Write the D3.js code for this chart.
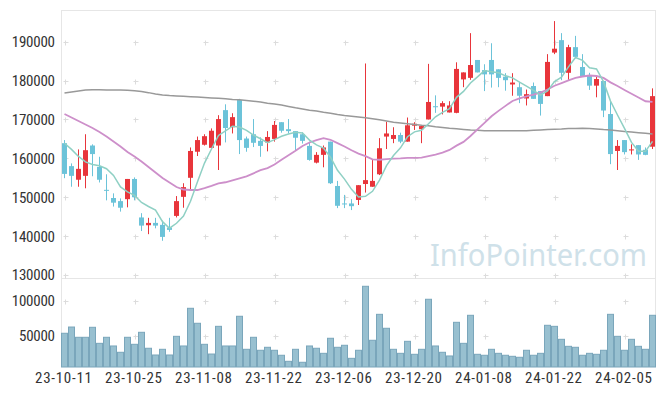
<!DOCTYPE html>
<html><head><meta charset="utf-8">
<script src="https://cdn.jsdelivr.net/npm/d3@7/dist/d3.min.js"></script>
<style>body{margin:0;background:#fff}svg{display:block}</style>
</head><body><svg id="c" width="665" height="396"></svg>
<script>
const dates = ["23-10-11","23-10-12","23-10-13","23-10-16","23-10-17","23-10-18","23-10-19","23-10-20","23-10-23","23-10-24",
"23-10-25","23-10-26","23-10-27","23-10-30","23-10-31","23-11-01","23-11-02","23-11-03","23-11-06","23-11-07",
"23-11-08","23-11-09","23-11-10","23-11-13","23-11-14","23-11-15","23-11-16","23-11-17","23-11-20","23-11-21",
"23-11-22","23-11-23","23-11-24","23-11-27","23-11-28","23-11-29","23-11-30","23-12-01","23-12-04","23-12-05",
"23-12-06","23-12-07","23-12-08","23-12-11","23-12-12","23-12-13","23-12-14","23-12-15","23-12-18","23-12-19",
"23-12-20","23-12-21","23-12-22","23-12-26","23-12-27","23-12-28","24-01-02","24-01-03","24-01-04","24-01-05",
"24-01-08","24-01-09","24-01-10","24-01-11","24-01-12","24-01-15","24-01-16","24-01-17","24-01-18","24-01-19",
"24-01-22","24-01-23","24-01-24","24-01-25","24-01-26","24-01-29","24-01-30","24-01-31","24-02-01","24-02-02",
"24-02-05","24-02-06","24-02-07","24-02-08","24-02-13"];
const xTickLabels = ["23-10-11","23-10-25","23-11-08","23-11-22","23-12-06","23-12-20","24-01-08","24-01-22","24-02-05"];
const priceTicks = [130000,140000,150000,160000,170000,180000,190000];
const volumeTicks = [50000,100000];

const open = [163900,158000,154500,155500,163300,157800,151900,149800,149000,149500,
154700,144800,142800,143400,142900,142200,145200,150100,155000,161700,
163500,162700,163300,172400,168000,175000,165100,166200,164500,164100,
165000,169300,167500,167000,166200,163200,158900,160900,164300,152900,
148400,148400,149300,153400,152700,155900,165600,165000,166000,164300,
168400,167500,170000,173400,173300,171800,171700,180300,180700,185300,
182700,185300,182900,181000,179000,178300,175400,178600,177300,176000,
187200,190400,182000,188600,183500,181300,178700,179900,171400,161900,
164700,162100,163400,162200,163000];
const high = [164700,158700,162300,166200,163600,160400,155900,151000,149700,154700,
155100,145900,144700,144700,144000,144700,150300,153600,162800,165600,
166200,167700,171100,173900,171600,175300,165600,170100,165400,167000,
169600,169300,170100,167000,166700,164300,161600,163300,164300,154200,
150600,149500,153100,184400,159800,165200,169400,168000,166600,170500,
169300,168600,184300,176200,174700,174700,184700,182100,192200,185300,
184200,189600,182900,181900,181900,179700,177700,179500,177300,186800,
195300,192200,189200,191500,186800,182000,181200,179900,174600,164700,
164700,163600,163400,162800,178000];
const low = [154900,152700,152700,152300,155400,153800,149200,147600,146300,147400,
149200,141300,140500,142000,138800,141100,144800,147300,151900,160600,
163300,162600,157000,164100,166400,161100,161700,162900,160400,161800,
164300,166600,166400,161900,163800,159400,158700,157700,153400,147200,
147200,146700,148000,151200,152700,155700,162400,163900,163900,164300,
167300,163900,170000,171700,171300,171800,171600,178300,180200,182100,
177300,178200,178300,177400,176100,174200,173600,175300,171000,176000,
186800,180100,180200,185700,181100,177600,175700,170600,158500,157000,
161000,161000,159600,160800,162400];
const close = [156000,155500,157300,162100,161100,154500,151700,148600,147300,154700,
150000,142700,143400,142700,139800,141600,149000,152600,161900,164700,
165700,167100,170100,167800,170600,164700,162700,164000,163200,165500,
168600,167100,167000,165300,164500,159600,160900,162800,153600,147800,
148200,147700,153100,154400,154200,162600,166400,166000,164300,168500,
168900,168300,174500,173200,174200,173600,183000,182100,184000,182100,
181600,181600,180700,180100,179500,176100,176500,175300,174000,184800,
188200,182000,188600,186100,181100,178700,180400,172300,161100,163200,
161600,162300,161000,160900,176000];
const volume = [53500,62500,47700,47700,62100,39000,47700,35200,26100,47700,
37600,54900,31900,22200,30400,22200,49100,35200,89500,67900,
37600,23600,63500,35200,35200,78000,30400,47700,29000,33300,
29000,21800,13100,30400,11700,35200,31900,24600,46300,33300,
36200,17400,29000,121200,43400,80800,60700,30400,24600,41900,
23200,30400,102500,35200,26100,20800,69300,39000,79400,23200,
21800,30400,24600,21800,20300,18900,29000,21800,24600,65000,
63500,44800,34700,33300,21800,24600,23200,29000,80800,49100,
29000,44800,34700,30400,79400];
const ma5 = [163900,162300,160500,159100,158400,158100,157340,155600,152640,151360,
150460,148660,147620,146700,143720,142040,143300,145140,148980,153960,
158780,162400,165900,167080,168260,168060,167180,165960,165040,164020,
164800,165680,166280,166700,166500,164700,163460,162620,160280,156940,
154660,152020,150080,150240,151520,154400,158140,160720,162700,165560,
166820,167200,168900,170680,171820,172760,175700,177220,179380,180960,
182560,182280,182000,181220,180700,179600,178580,177500,176280,177340,
179760,180860,183520,185940,185200,183300,182980,179720,174720,171140,
167720,164100,161840,161800,164360];
const ma20 = [171400,170500,169600,168700,167800,166770,165620,164330,163040,161630,
160470,159190,157770,156360,154950,153790,152630,151990,151860,151860,
152345,152925,153565,153850,154325,154835,155385,156155,156950,157490,
158420,159640,160820,161950,163185,164085,164680,165190,164775,163930,
163055,162085,161235,160565,159745,159640,159825,159925,159980,160130,
160145,160205,160580,160975,161460,162160,163265,164230,165750,167465,
169135,170830,172210,173495,174760,175435,175940,176405,176890,177705,
178670,179355,180060,180705,181050,181305,181175,180685,179540,178595,
177595,176630,175645,174685,174510];
const ma120 = [176800,177050,177300,177550,177650,177650,177600,177550,177550,177500,
177400,177200,176900,176550,176300,176150,176050,175950,175850,175750,
175650,175550,175450,175300,175150,175050,174900,174700,174500,174200,
174000,173700,173350,173000,172700,172400,172150,171850,171600,171300,
171050,170850,170650,170450,170200,169900,169600,169300,169100,168900,
168700,168500,168400,168150,167950,167750,167600,167450,167300,167200,
167100,167100,167100,167100,167100,167100,167100,167200,167300,167400,
167500,167550,167650,167700,167750,167700,167550,167400,167300,167100,
166900,166750,166600,166450,166250];

const svg = d3.select("#c");
const L = 61, R = 656, T = 10, MID = 278, B = 367;
const FONT = "'Liberation Sans Narrow', 'Roboto Condensed', 'DejaVu Sans Condensed', sans-serif";

const x = d3.scaleBand().domain(dates).range([L, R]).padding(0);
const cx = d => x(d) + x.bandwidth() / 2;
const yP = d3.scaleLinear().domain([130000, 190000]).range([275, 41.7]);
const yV = d3.scaleLinear().domain([0, 100000]).range([370.4, 301]);

// frame
const frame = svg.append("g").attr("stroke", "#e6e6e6").attr("stroke-width", 1).attr("fill", "none");
frame.append("line").attr("x1", L).attr("x2", R).attr("y1", T + 0.5).attr("y2", T + 0.5);
frame.append("line").attr("x1", L).attr("x2", R).attr("y1", MID + 0.5).attr("y2", MID + 0.5);
frame.append("line").attr("x1", L + 0.5).attr("x2", L + 0.5).attr("y1", T).attr("y2", B);
frame.append("line").attr("x1", R - 0.5).attr("x2", R - 0.5).attr("y1", T).attr("y2", B);

// cross grid markers
const crosses = svg.append("g").attr("stroke", "#dcdcdc").attr("stroke-width", 1);
function cross(px, py) {
  px = Math.round(px) + 0.5; py = Math.round(py) + 0.5;
  crosses.append("line").attr("x1", px - 2).attr("x2", px + 3).attr("y1", py).attr("y2", py);
  crosses.append("line").attr("x1", px).attr("x2", px).attr("y1", py - 2).attr("y2", py + 3);
}
xTickLabels.forEach(d => {
  priceTicks.forEach(t => cross(cx(d), yP(t)));
  volumeTicks.forEach(t => cross(cx(d), yV(t)));
});

// watermark
svg.append("text").attr("x", 647).attr("y", 266).attr("text-anchor", "end")
  .attr("font-family", "'Noto Sans', sans-serif").attr("font-size", 31)
  .attr("fill", "#cfe1e9").attr("textLength", 217).attr("lengthAdjust", "spacingAndGlyphs")
  .text("InfoPointer.com");

// volume bars
svg.append("g").selectAll("rect").data(dates).join("rect")
  .attr("x", d => x(d) + 0.5)
  .attr("width", x.bandwidth() - 1)
  .attr("y", (d, i) => yV(volume[i]))
  .attr("height", (d, i) => B - yV(volume[i]))
  .attr("fill", "#98c0d0").attr("stroke", "#7aa6bb").attr("stroke-width", 1);

// candles
const up = "#e8353b", down = "#6cc3d9";
const cg = svg.append("g");
cg.selectAll("line").data(dates).join("line")
  .attr("x1", cx).attr("x2", cx)
  .attr("y1", (d, i) => yP(high[i])).attr("y2", (d, i) => yP(low[i]))
  .attr("stroke", (d, i) => close[i] >= open[i] ? up : down).attr("stroke-width", 1);
cg.selectAll("rect").data(dates).join("rect")
  .attr("x", d => cx(d) - 2.5).attr("width", 5)
  .attr("y", (d, i) => yP(Math.max(open[i], close[i])))
  .attr("height", (d, i) => Math.max(1, Math.abs(yP(open[i]) - yP(close[i]))))
  .attr("fill", (d, i) => close[i] >= open[i] ? up : down);

// moving averages
const line = arr => d3.line().x((d, i) => cx(dates[i])).y(d => yP(d))(arr);
svg.append("path").attr("d", line(ma120)).attr("fill", "none").attr("stroke", "#999").attr("stroke-width", 1.5);
svg.append("path").attr("d", line(ma20)).attr("fill", "none").attr("stroke", "#cd8fca").attr("stroke-width", 1.8);
svg.append("path").attr("d", line(ma5)).attr("fill", "none").attr("stroke", "#8fd0c4").attr("stroke-width", 1.5);

// axis labels
const lab = svg.append("g").attr("font-family", FONT).attr("font-size", 15).attr("fill", "#333");
priceTicks.forEach(t => lab.append("text").attr("x", 55).attr("y", yP(t)).attr("dy", "0.36em")
  .attr("text-anchor", "end").attr("textLength", String(t).length * 7.2).attr("lengthAdjust", "spacing").text(t));
volumeTicks.forEach(t => lab.append("text").attr("x", 55).attr("y", yV(t)).attr("dy", "0.36em")
  .attr("text-anchor", "end").attr("textLength", String(t).length * 7.2).attr("lengthAdjust", "spacing").text(t));
xTickLabels.forEach(d => lab.append("text").attr("x", cx(d) - 1).attr("y", 383)
  .attr("text-anchor", "middle").attr("textLength", 57).attr("lengthAdjust", "spacing").text(d));
</script>
</body></html>
